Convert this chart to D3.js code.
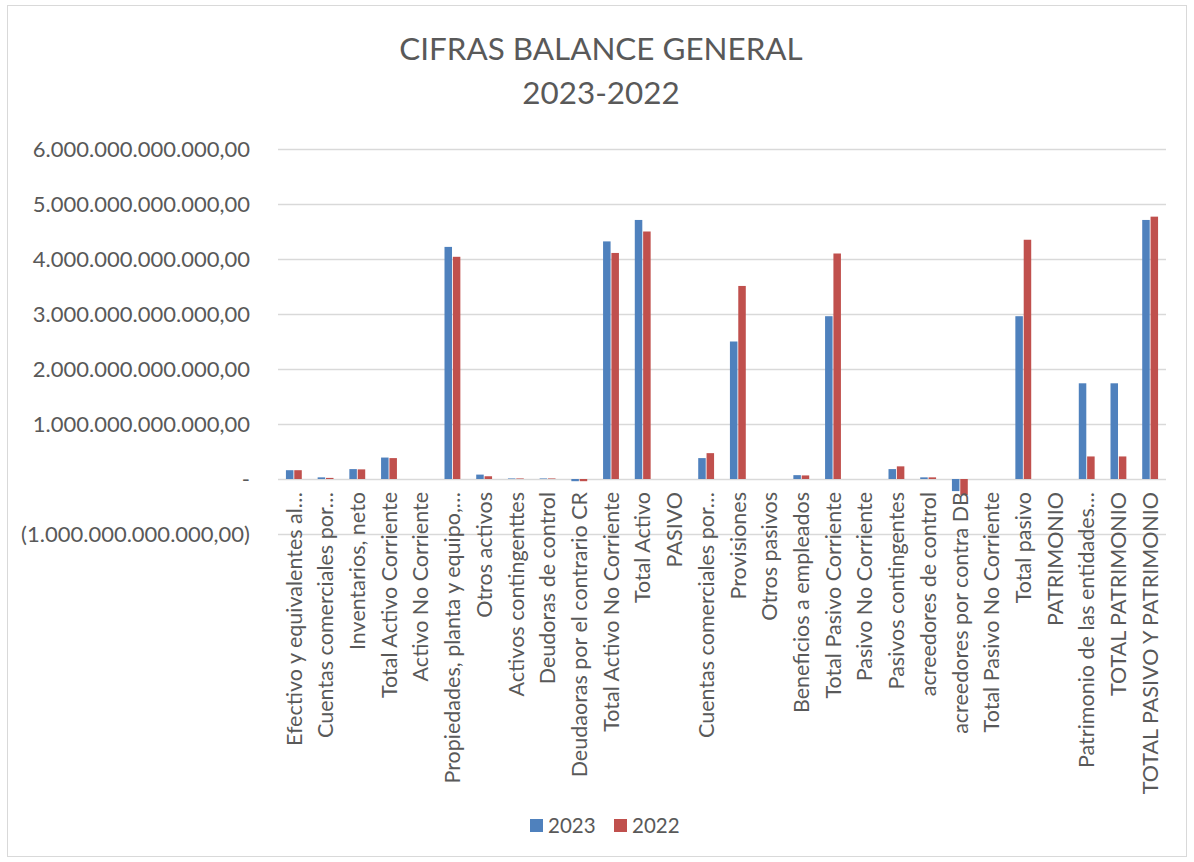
<!DOCTYPE html>
<html>
<head>
<meta charset="utf-8">
<script src="https://cdn.jsdelivr.net/npm/d3@7"></script>
<style>
  html, body { margin: 0; padding: 0; background: #fff; }
  svg { display: block; }
</style>
</head>
<body>
<svg id="chart" width="1194" height="862"></svg>
<script>
const titleLines = ["CIFRAS BALANCE GENERAL", "2023-2022"];
const categories = [
  "Efectivo y equivalentes al…",
  "Cuentas comerciales por…",
  "Inventarios,  neto",
  "Total Activo Corriente",
  "Activo No Corriente",
  "Propiedades, planta y equipo,…",
  "Otros activos",
  "Activos contingenttes",
  "Deudoras de control",
  "Deudaoras por el contrario CR",
  "Total Activo No Corriente",
  "Total Activo",
  "PASIVO",
  "Cuentas comerciales por…",
  "Provisiones",
  "Otros pasivos",
  "Beneficios a empleados",
  "Total Pasivo Corriente",
  "Pasivo No Corriente",
  "Pasivos contingentes",
  "acreedores de control",
  "acreedores por contra DB",
  "Total Pasivo No Corriente",
  "Total pasivo",
  "PATRIMONIO",
  "Patrimonio de las entidades…",
  "TOTAL PATRIMONIO",
  "TOTAL PASIVO Y PATRIMONIO"
];
const seriesNames = ["2023", "2022"];
const values2023 = [
  0.16e12, 0.03e12, 0.18e12, 0.39e12, 0,
  4.22e12, 0.08e12, 0.01e12, 0.01e12, -0.04e12,
  4.32e12, 4.71e12, 0, 0.38e12, 2.50e12,
  0, 0.07e12, 2.96e12, 0, 0.18e12,
  0.03e12, -0.22e12, 0, 2.96e12, 0,
  1.74e12, 1.74e12, 4.71e12
];
const values2022 = [
  0.16e12, 0.02e12, 0.175e12, 0.38e12, 0,
  4.04e12, 0.05e12, 0.01e12, 0.01e12, -0.04e12,
  4.11e12, 4.50e12, 0, 0.47e12, 3.51e12,
  0, 0.065e12, 4.10e12, 0, 0.23e12,
  0.03e12, -0.29e12, 0, 4.35e12, 0,
  0.41e12, 0.41e12, 4.77e12
];
const yTicks = [-1e12, 0, 1e12, 2e12, 3e12, 4e12, 5e12, 6e12];
const colors = ["#4F81BD", "#C0504D"];

const textColor = "#595959";
const fontFam = "Lato, 'Open Sans', sans-serif";

function fmtEs(v) {
  if (v === 0) return "-";
  const neg = v < 0;
  const a = Math.abs(v);
  const intPart = Math.floor(a).toString().replace(/\B(?=(\d{3})+(?!\d))/g, ".");
  const s = intPart + ",00";
  return neg ? "(" + s + ")" : s;
}

const svg = d3.select("#chart");
const plot = { left: 278, right: 1166, top: 149, bottom: 534 };

// chart border
svg.append("rect")
  .attr("x", 7.5).attr("y", 5.5).attr("width", 1179).attr("height", 851)
  .attr("fill", "#fff").attr("stroke", "#D9D9D9").attr("stroke-width", 1);

// title
svg.append("g").selectAll("text").data(titleLines).join("text")
  .attr("x", 601).attr("y", (d, i) => 60 + i * 43.5)
  .attr("text-anchor", "middle")
  .attr("font-family", fontFam).attr("font-size", 31.4)
  .attr("fill", textColor)
  .text(d => d);

const y = d3.scaleLinear().domain([-1e12, 6e12]).range([plot.bottom, plot.top]);
const x0 = d3.scaleBand().domain(d3.range(categories.length))
  .range([plot.left, plot.right]).paddingInner(0.5).paddingOuter(0.25);
const x1 = d3.scaleBand().domain(seriesNames).range([0, x0.bandwidth()]).paddingInner(0.1);

// gridlines
const yAxis = d3.axisLeft(y).tickValues(yTicks).tickSize(-(plot.right - plot.left)).tickFormat(fmtEs).tickPadding(28);
const gy = svg.append("g").attr("transform", `translate(${plot.left},0)`).call(yAxis);
gy.select(".domain").remove();
gy.selectAll(".tick line").attr("stroke", "#D9D9D9").attr("stroke-width", 1.3);
gy.selectAll(".tick text")
  .attr("font-family", fontFam).attr("font-size", 22).attr("fill", textColor);

// bars
const seriesData = [values2023, values2022];
const groups = svg.append("g").selectAll("g").data(categories.map((c, i) => i)).join("g")
  .attr("transform", i => `translate(${x0(i)},0)`);
groups.selectAll("rect").data(i => seriesNames.map((s, k) => ({ s, k, v: seriesData[k][i] })))
  .join("rect")
  .attr("x", d => x1(d.s))
  .attr("width", x1.bandwidth())
  .attr("y", d => y(Math.max(0, d.v)))
  .attr("height", d => Math.abs(y(d.v) - y(0)))
  .attr("fill", d => colors[d.k]);

// category labels
const xAxis = d3.axisBottom(x0).tickSize(0).tickFormat(i => categories[i]);
const gx = svg.append("g").attr("transform", `translate(0,${y(0)})`).call(xAxis);
gx.select(".domain").remove();
gx.selectAll(".tick text")
  .attr("font-family", fontFam).attr("font-size", 21.5).attr("fill", textColor)
  .attr("transform", "rotate(-90)")
  .attr("text-anchor", "end")
  .attr("x", -13).attr("y", 0).attr("dy", "0.36em");

// legend
const legend = svg.append("g").attr("transform", "translate(530,819)");
seriesNames.forEach((s, k) => {
  const g = legend.append("g").attr("transform", `translate(${k * 84},0)`);
  g.append("rect").attr("x", 0).attr("y", 0).attr("width", 13).attr("height", 13).attr("fill", colors[k]);
  g.append("text").attr("x", 18).attr("y", 14).attr("font-family", fontFam).attr("font-size", 20.5)
    .attr("fill", textColor).text(s);
});
</script>
</body>
</html>
